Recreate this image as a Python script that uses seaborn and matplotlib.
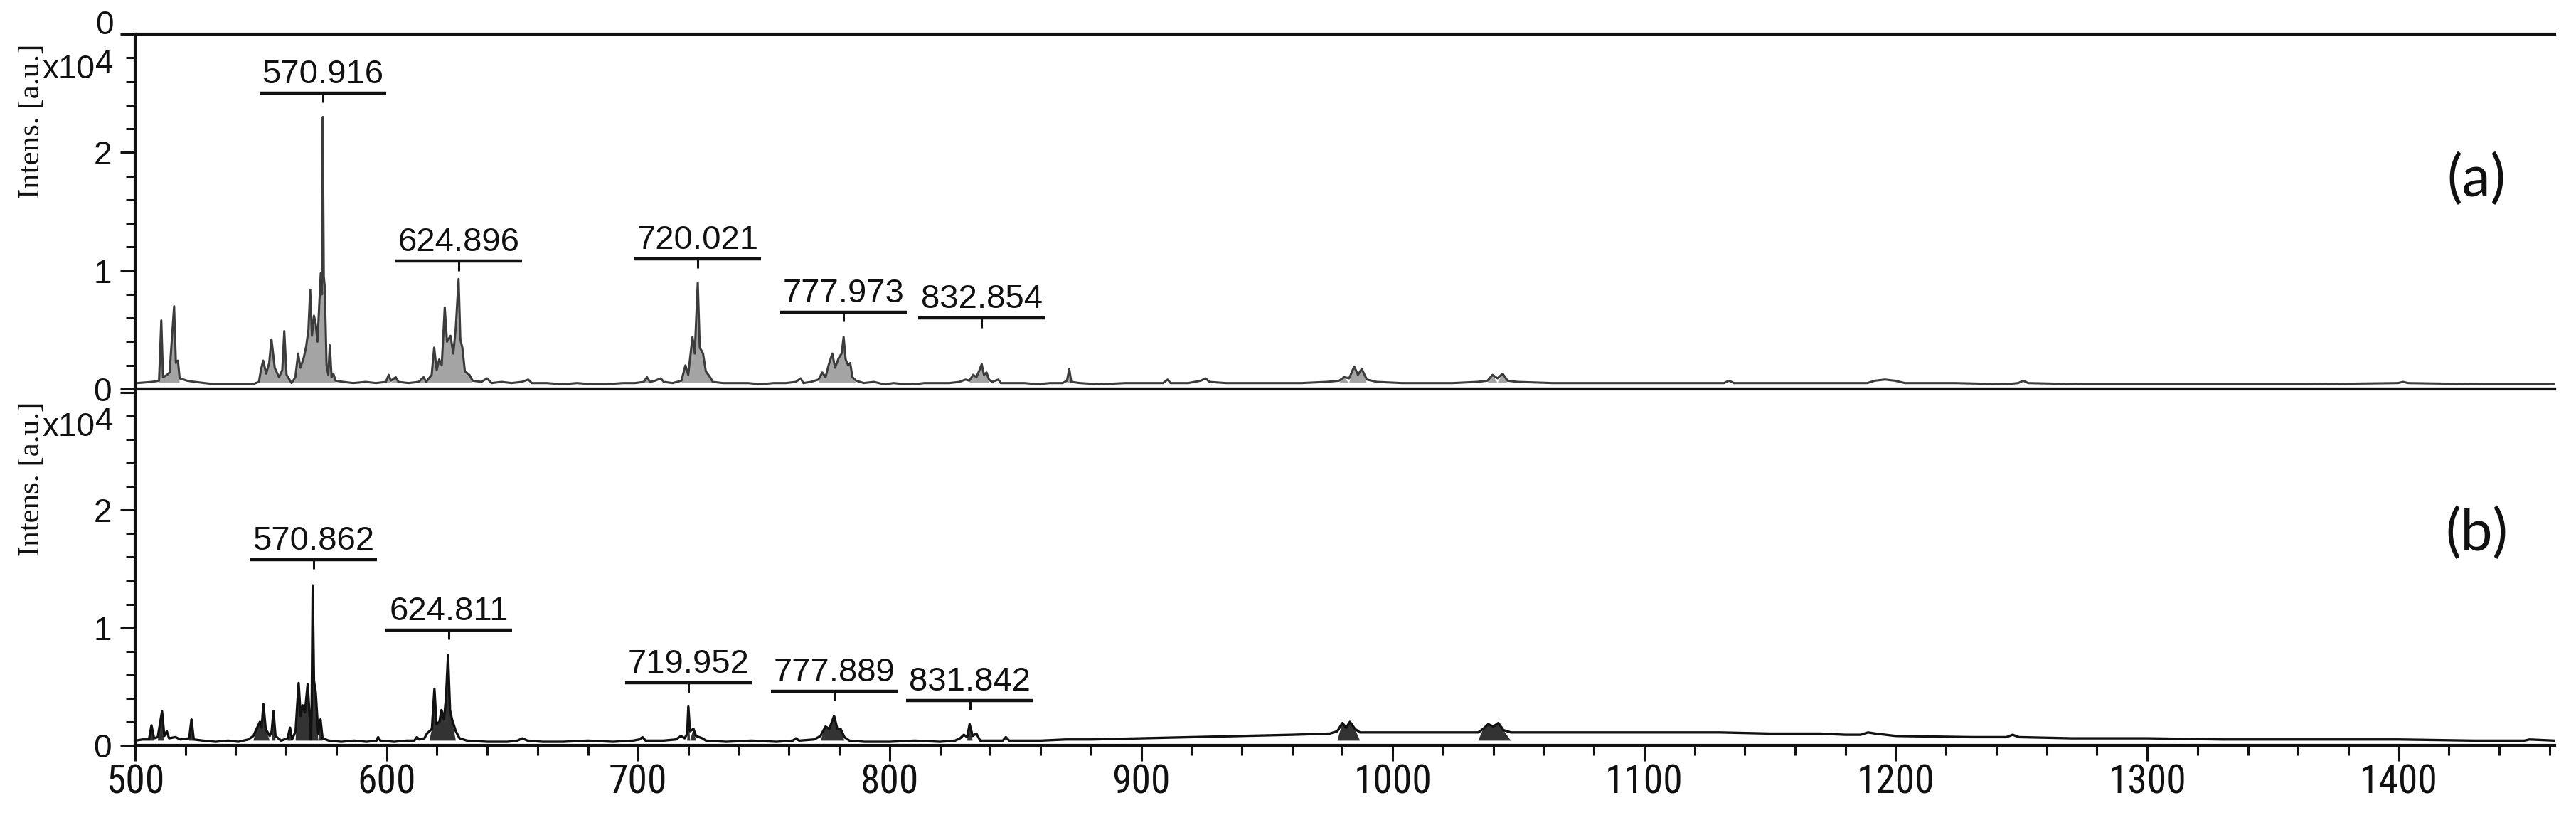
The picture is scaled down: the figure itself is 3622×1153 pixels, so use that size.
import numpy as np
import pandas as pd
import matplotlib
matplotlib.use("Agg")
import matplotlib.pyplot as plt
from matplotlib import font_manager as fm
from matplotlib.ticker import MultipleLocator, FixedLocator, FixedFormatter
import seaborn as sns

# ---------------- data ----------------
# spectrum (a): m/z vertices and intensities (x10^4 a.u.)
mz_a = [497, 503, 505.8, 506.7, 507.4, 509, 510, 511.8, 512.5, 513.3, 514, 517, 520, 524, 528, 533, 538, 543,
        545.5, 546.3, 547.2, 548.4, 549.6, 550.5, 551.8, 553.5, 554.8, 555.6, 556.5, 558.5, 560.0, 561.1, 562.0,
        563.3, 564.3, 565.2, 565.9, 566.6, 567.4, 568.1, 568.8, 569.5, 570.1, 570.6, 570.9, 571.3, 571.7, 572.4,
        573.1, 573.7, 574.4, 575.1, 576, 579, 583, 588, 592, 596, 597.1, 598, 599.9, 601, 605, 609, 611, 612,
        614.2, 615.2, 616.2, 617.2, 618.2, 619.4, 620.3, 621.7, 622.8, 623.8, 624.9, 625.6, 626.4, 627.4, 629.2,
        630.5, 634, 636.2, 638, 642, 646, 650, 652.6, 654, 660, 666, 672, 678, 684, 690, 695, 698.5, 699.8, 701,
        703, 705.3, 706.5, 710, 713.5, 715.1, 716.2, 717.9, 718.8, 720.0, 720.8, 722.1, 723.2, 724.9, 726, 730,
        735, 740, 745, 750, 755, 759, 760.9, 762, 765, 768, 769.5, 770.8, 772, 773.5, 774.6, 776, 777.2, 778.0,
        778.8, 779.8, 780.6, 781.5, 783, 786, 790, 794, 798, 802, 806, 810, 815, 820, 824, 826.5, 828, 829.5,
        830.8, 832.0, 832.9, 833.8, 834.8, 835.8, 837, 839.5, 840.5, 845, 850, 855, 860, 865, 866.8, 867.7,
        868.5, 872, 880, 890, 900, 905, 906.8, 908, 915, 920, 921.9, 923.5, 930, 940, 950, 960, 970, 975, 977,
        979, 981, 982.5, 984, 986, 990, 1000, 1010, 1020, 1030, 1034, 1036, 1038, 1040, 1042, 1046, 1060, 1080,
        1100, 1120, 1128, 1130, 1132, 1150, 1170, 1185, 1188, 1192, 1196, 1200, 1220, 1240, 1245, 1247, 1249,
        1270, 1300, 1330, 1360, 1396, 1398, 1400, 1430, 1458]
int_a = [0.05, 0.06, 0.07, 0.58, 0.10, 0.12, 0.14, 0.70, 0.22, 0.24, 0.09, 0.07, 0.06, 0.05, 0.04, 0.04, 0.04, 0.04,
         0.06, 0.16, 0.24, 0.13, 0.22, 0.42, 0.18, 0.10, 0.16, 0.49, 0.12, 0.05, 0.10, 0.30, 0.18,
         0.26, 0.36, 0.50, 0.84, 0.45, 0.62, 0.55, 0.40, 0.72, 0.98, 0.80, 2.30, 0.95, 0.86, 0.20,
         0.12, 0.37, 0.10, 0.13, 0.07, 0.06, 0.05, 0.06, 0.05, 0.06, 0.12, 0.07, 0.10, 0.06, 0.05, 0.06, 0.10, 0.06,
         0.12, 0.35, 0.16, 0.25, 0.20, 0.69, 0.40, 0.45, 0.30, 0.52, 0.93, 0.42, 0.35, 0.15, 0.12,
         0.07, 0.06, 0.09, 0.05, 0.06, 0.05, 0.06, 0.08, 0.05, 0.05, 0.04, 0.05, 0.04, 0.04, 0.05, 0.05, 0.06, 0.10, 0.06,
         0.07, 0.09, 0.06, 0.05, 0.07, 0.20, 0.12, 0.44, 0.30, 0.90, 0.35, 0.30, 0.15, 0.10, 0.06, 0.05,
         0.05, 0.05, 0.04, 0.05, 0.05, 0.06, 0.09, 0.05, 0.06, 0.08, 0.14, 0.10, 0.20, 0.30, 0.18, 0.26, 0.30, 0.44,
         0.25, 0.20, 0.22, 0.10, 0.07, 0.05, 0.06, 0.04, 0.05, 0.04, 0.04, 0.05, 0.05, 0.05, 0.06, 0.08, 0.07, 0.12,
         0.10, 0.16, 0.21, 0.12, 0.14, 0.08, 0.06, 0.08, 0.05, 0.05, 0.05, 0.04, 0.05, 0.05, 0.07, 0.17,
         0.06, 0.05, 0.04, 0.05, 0.05, 0.05, 0.08, 0.05, 0.05, 0.07, 0.09, 0.06, 0.05, 0.05, 0.05, 0.05, 0.06, 0.07, 0.10,
         0.09, 0.19, 0.12, 0.17, 0.08, 0.06, 0.05, 0.05, 0.05, 0.06, 0.07, 0.12, 0.09, 0.13, 0.07, 0.06, 0.05, 0.05,
         0.05, 0.05, 0.05, 0.07, 0.05, 0.05, 0.05, 0.05, 0.07, 0.08, 0.07, 0.05, 0.05, 0.04, 0.05, 0.07, 0.05,
         0.04, 0.04, 0.04, 0.04, 0.05, 0.06, 0.05, 0.04, 0.04]

# spectrum (b)
mz_b = [500, 503, 505.5, 506.5, 507.5, 509, 510.7, 511.6, 512.6, 513.5, 516, 518, 521.5, 522.4, 523.3, 527, 532,
        537, 541, 545, 547, 548.3, 549.6, 550.3, 551, 551.9, 553.5, 554.3, 555, 555.8, 558, 560.6, 561.6, 562.4,
        563.8, 565, 565.8, 566.6, 567.5, 568.6, 569.4, 569.9, 570.2, 570.6, 571.1, 571.8, 572.8, 573.7, 574.5,
        577, 582, 587, 592, 596, 596.6, 597.5, 603, 608, 611, 612, 613, 615, 616, 617, 618, 619, 619.8, 621,
        621.8, 622.8, 623.6, 624.4, 625.2, 626, 627.5, 629, 632, 640, 648, 652, 654, 656, 662, 670, 680, 690,
        698, 700.5, 701.7, 703, 710, 715, 717, 718.5, 719.5, 719.95, 720.6, 722, 723, 725.5, 727, 735, 745, 755,
        761.5, 762.7, 764, 770, 772.5, 774.5, 776, 777.9, 779.2, 780.5, 782, 784, 790, 800, 810, 820, 826, 828,
        829.5, 830.8, 831.8, 833, 834.5, 836, 840, 845, 846.2, 847.5, 860, 870, 880, 900, 920, 940, 960, 975,
        978, 980, 981.5, 983, 985, 987, 1000, 1020, 1034, 1036, 1038, 1040, 1042, 1044, 1047, 1080, 1100, 1130,
        1150, 1170, 1180, 1186, 1189, 1192, 1200, 1230, 1244, 1246.5, 1249, 1270, 1300, 1330, 1360, 1390, 1400,
        1430, 1450, 1452, 1462]
int_b = [0.04, 0.05, 0.05, 0.17, 0.06, 0.07, 0.29, 0.08, 0.12, 0.06, 0.07, 0.05, 0.06, 0.22, 0.05, 0.04, 0.03,
         0.04, 0.03, 0.05, 0.08, 0.14, 0.20, 0.15, 0.35, 0.14, 0.08, 0.12, 0.29, 0.08, 0.04, 0.06, 0.15, 0.05,
         0.12, 0.53, 0.25, 0.34, 0.28, 0.52, 0.24, 0.05, 0.30, 1.36, 0.55, 0.45, 0.10, 0.22, 0.06,
         0.04, 0.03, 0.04, 0.03, 0.04, 0.07, 0.04, 0.03, 0.04, 0.04, 0.07, 0.05, 0.06, 0.10, 0.12, 0.14, 0.48, 0.18, 0.20,
         0.30, 0.22, 0.40, 0.77, 0.30, 0.22, 0.12, 0.06, 0.04, 0.03, 0.03, 0.04, 0.06, 0.04, 0.03, 0.03, 0.04, 0.03,
         0.04, 0.05, 0.07, 0.04, 0.04, 0.05, 0.08, 0.06, 0.10, 0.33, 0.12, 0.14, 0.08, 0.06, 0.04, 0.03, 0.04, 0.03,
         0.04, 0.06, 0.04, 0.05, 0.08, 0.16, 0.14, 0.25, 0.14, 0.14, 0.07, 0.04, 0.03, 0.03, 0.04, 0.03, 0.04, 0.06,
         0.09, 0.07, 0.18, 0.08, 0.10, 0.04, 0.04, 0.04, 0.07, 0.04, 0.04, 0.05, 0.05, 0.06, 0.07, 0.08, 0.09, 0.10,
         0.12, 0.19, 0.15, 0.20, 0.14, 0.11, 0.11, 0.11, 0.11, 0.14, 0.18, 0.16, 0.19, 0.13, 0.11, 0.11, 0.11, 0.11,
         0.10, 0.10, 0.09, 0.09, 0.11, 0.10, 0.08, 0.07, 0.07, 0.09, 0.07, 0.06, 0.06, 0.05, 0.05, 0.05, 0.05,
         0.04, 0.04, 0.05, 0.04]

# labelled peaks: m/z, label text, label-bar height (x10^4)
peak_a_mz = [570.916, 624.896, 720.021, 777.973, 832.854]
peak_a_lbl = ["570.916", "624.896", "720.021", "777.973", "832.854"]
peak_a_bar = [2.50, 1.08, 1.10, 0.65, 0.60]

peak_b_mz = [570.862, 624.811, 719.952, 777.889, 831.842]
peak_b_lbl = ["570.862", "624.811", "719.952", "777.889", "831.842"]
peak_b_bar = [1.58, 0.98, 0.53, 0.46, 0.38]

x_major = [500, 600, 700, 800, 900, 1000, 1100, 1200, 1300, 1400]
y_major = [0, 1, 2, 3]
y_labels = ["0", "1", "2", ""]
panel_tags = ["(a)", "(b)"]
ylabel_text = "Intens. [a.u.]"

# ---------------- style ----------------
sns.set_theme(style="white")
avail = {f.name for f in fm.fontManager.ttflist}
NARROW = "Liberation Sans"
for cand in ["Liberation Sans Narrow", "Arial Narrow", "DejaVu Sans Condensed", "Roboto Condensed",
             "Open Sans Condensed", "Noto Sans Condensed"]:
    if cand in avail:
        NARROW = cand
        break
SANS = "Liberation Sans"
SERIF = "Liberation Serif"
TAGF = "Lato" if "Lato" in avail else "DejaVu Sans"
plt.rcParams["font.family"] = [SANS, "DejaVu Sans"]

W, H = 3622, 1153
fig = plt.figure(figsize=(W / 100, H / 100), dpi=100)
fig.patch.set_facecolor("white")

L = 190 / W
WD = 3402 / W
ax_a = fig.add_axes([L, (H - 547) / H, WD, 499 / H])
ax_b = fig.add_axes([L, (H - 1048) / H, WD, 501 / H])

XLIM_B = (500, 1462)
A_SHIFT = 3.7  # panel (a) trace is printed slightly offset in the scan
XLIM_A = (XLIM_B[0] - A_SHIFT, XLIM_B[1] - A_SHIFT)

df_a = pd.DataFrame({"mz": mz_a, "intensity": int_a})
df_b = pd.DataFrame({"mz": mz_b, "intensity": int_b})

sns.lineplot(data=df_a, x="mz", y="intensity", ax=ax_a, color="#3c3c3c", lw=2.2,
             estimator=None, sort=False, legend=False)
ia = np.array(int_a)
ax_a.fill_between(df_a["mz"], 0.05, ia, where=ia > 0.09, color="#a4a4a4", lw=0, interpolate=True)

sns.lineplot(data=df_b, x="mz", y="intensity", ax=ax_b, color="#111111", lw=2.4,
             estimator=None, sort=False, legend=False)
ib = np.array(int_b)
ax_b.fill_between(df_b["mz"], 0.04, ib, where=ib > 0.12, color="#333333", lw=0, interpolate=True)

HALF = 25.2     # half width of label bar (m/z units)
TICKLEN = 0.08  # small drop tick below label bar


def label_peaks(ax, mzs, labels, bars):
    for mz, lbl, yb in zip(mzs, labels, bars):
        ax.hlines(yb, mz - HALF, mz + HALF, color="#111111", lw=3.2)
        ax.vlines(mz, yb - TICKLEN, yb, color="#111111", lw=2.2)
        ax.text(mz, yb + 0.025, lbl, ha="center", va="bottom", fontsize=34,
                family=[SANS, "DejaVu Sans"], color="#111111")


label_peaks(ax_a, peak_a_mz, peak_a_lbl, peak_a_bar)
label_peaks(ax_b, peak_b_mz, peak_b_lbl, peak_b_bar)

for ax, xl, yl in [(ax_a, XLIM_A, (0, 3.0)), (ax_b, XLIM_B, (0, 3.03))]:
    ax.set_xlim(*xl)
    ax.set_ylim(*yl)
    ax.set_xlabel("")
    ax.set_ylabel("")
    ax.set_facecolor("white")
    for s in ["left", "top", "bottom"]:
        ax.spines[s].set_visible(True)
        ax.spines[s].set_linewidth(3.0)
        ax.spines[s].set_color("#111111")
    ax.spines["right"].set_visible(False)
    ax.yaxis.set_major_locator(FixedLocator(y_major))
    ax.yaxis.set_major_formatter(FixedFormatter(y_labels))
    ax.yaxis.set_minor_locator(MultipleLocator(0.2))
    ax.tick_params(axis="y", which="major", direction="out", length=15, width=2.2,
                   labelsize=33, pad=9, colors="#111111", left=True)
    ax.tick_params(axis="y", which="minor", direction="out", length=9.5, width=2.2,
                   colors="#111111", left=True)
    for t in ax.get_yticklabels():
        t.set_fontfamily([SANS, "DejaVu Sans"])

ax_a.tick_params(axis="x", which="both", bottom=False, labelbottom=False)

ax_b.xaxis.set_major_locator(FixedLocator(x_major))
ax_b.xaxis.set_minor_locator(MultipleLocator(20))
ax_b.tick_params(axis="x", which="major", direction="out", length=16, width=2.2,
                 labelsize=40, pad=2, colors="#111111", bottom=True)
ax_b.tick_params(axis="x", which="minor", direction="out", length=10, width=2.2,
                 colors="#111111", bottom=True)
for t in ax_b.get_xticklabels():
    t.set_fontfamily([NARROW, "DejaVu Sans"])

# cut-off zero label of the (not shown) spectrum above panel (a), as in the scan
fig.text(147 / W, 1 - 36 / H, "0", ha="center", va="center", fontsize=33,
         family=[SANS, "DejaVu Sans"], color="#111111")

# y axis titles and exponent markers
for top_px in [48, 551]:
    fig.text(45 / W, 1 - (top_px + 122) / H, ylabel_text, rotation=90, ha="center", va="center",
             fontsize=31, family=[SERIF, "DejaVu Serif"], color="#111111")
    fig.text(133 / W, 1 - (top_px + 62) / H, "x10", ha="right", va="baseline",
             fontsize=33, family=[SANS, "DejaVu Sans"], color="#111111")
    fig.text(134 / W, 1 - (top_px + 54) / H, "4", ha="left", va="baseline",
             fontsize=33, family=[SANS, "DejaVu Sans"], color="#111111")

# panel tags
fig.text(3482 / W, 1 - 252 / H, panel_tags[0], ha="center", va="center", fontsize=58,
         family=[TAGF, "DejaVu Sans"], color="#111111")
fig.text(3482 / W, 1 - 750 / H, panel_tags[1], ha="center", va="center", fontsize=58,
         family=[TAGF, "DejaVu Sans"], color="#111111")

fig.savefig("out.png", dpi=100, facecolor="white")
